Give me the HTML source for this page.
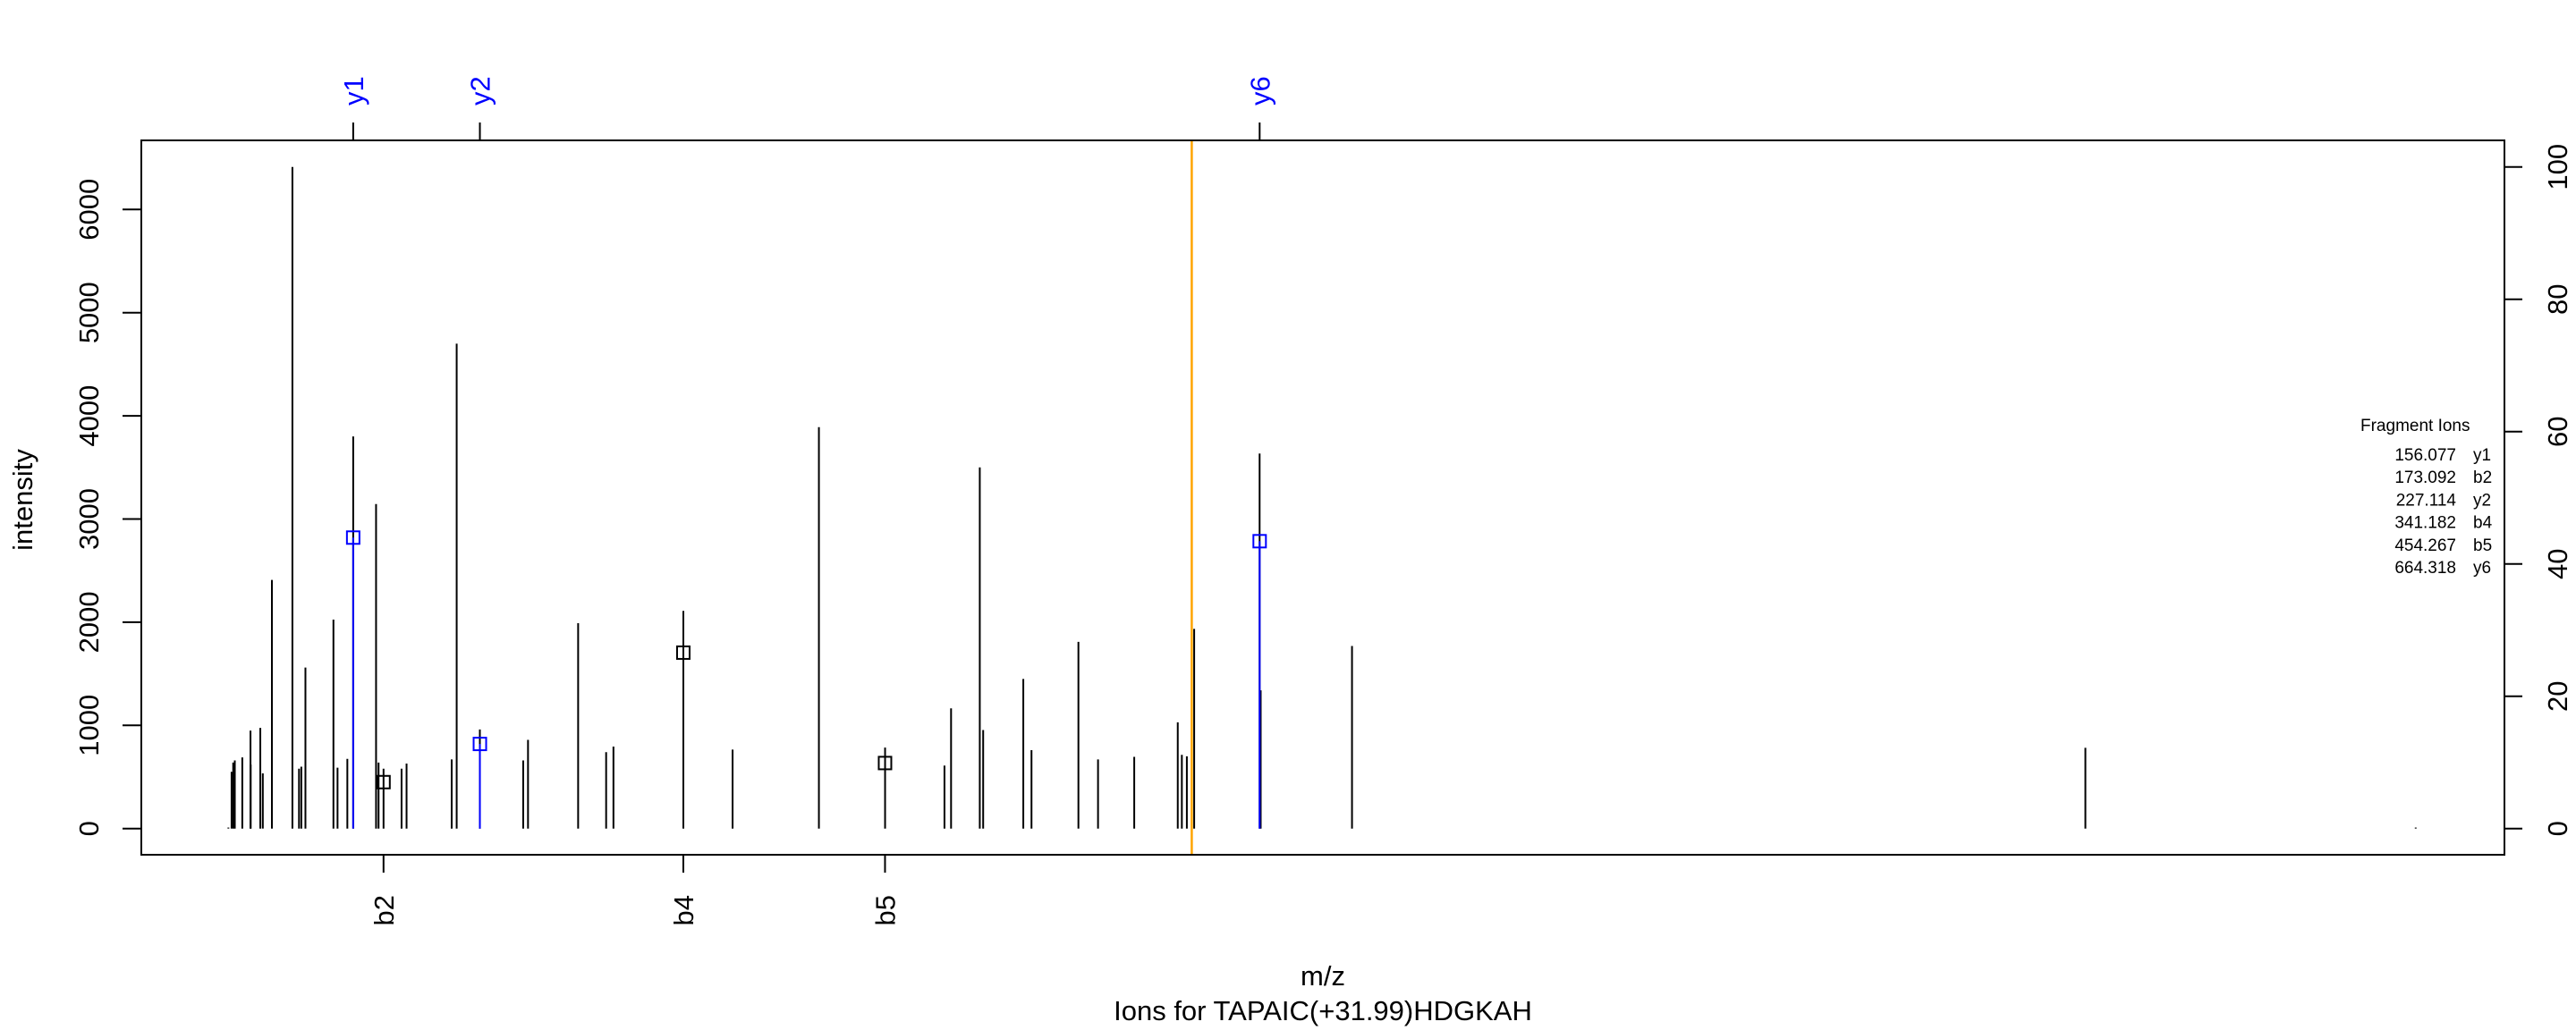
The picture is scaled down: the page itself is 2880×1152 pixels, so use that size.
<!DOCTYPE html>
<html><head><meta charset="utf-8"><style>
html,body{margin:0;padding:0;background:#fff;}
svg{display:block;font-family:"Liberation Sans",Arial,sans-serif;}
</style></head><body>
<svg id="chart" width="2880" height="1152" viewBox="0 0 2880 1152" xmlns="http://www.w3.org/2000/svg">
<rect x="158" y="157" width="2642" height="799" fill="none" stroke="#000" stroke-width="2"/>
<text x="0" y="0" transform="translate(36,559) rotate(-90)" text-anchor="middle" font-size="31">intensity</text>
<text x="1479" y="1102" text-anchor="middle" font-size="31">m/z</text>
<text x="1479" y="1141" text-anchor="middle" font-size="31">Ions for TAPAIC(+31.99)HDGKAH</text>
<g id="legend" font-size="19">
<text x="2639" y="482">Fragment Ions</text>
</g>
<g id="axes"></g>
<g id="peaks"></g>
<g id="marks"></g>
</svg>
<script>
const peakMz = [86.1,87.9,88.8,89.7,93.9,98.5,98.6,104.0,105.4,110.5,122.0,125.7,127.0,129.3,145.0,147.3,152.8,156.08,168.9,170.3,173.1,183.2,186.0,211.3,214.1,227.1,251.4,254.1,282.2,297.9,302.0,341.2,368.8,417.2,454.3,487.6,491.3,507.4,509.3,531.8,536.4,562.7,573.7,594.0,618.4,620.7,623.5,627.6,664.3,664.9,716.1,1127.3,1312.5];
const peakInt = [10,550,640,660,690,950,620,975,535,2410,6412,580,600,1560,2025,590,675,3800,3145,640,580,580,630,670,4700,960,660,860,1990,740,795,2110,765,3890,785,610,1165,3500,955,1450,760,1810,670,695,1030,715,700,1935,3635,1340,1770,783,10];
const ionMz = [156.077,173.092,227.114,341.182,454.267,664.318];
const ionLabels = ["y1","b2","y2","b4","b5","y6"];
const ionInt = [2820,450,820,1705,635,2785];
const ionIsY = [true,false,true,false,false,true];
const leftTicks = [0,1000,2000,3000,4000,5000,6000];
const rightTicks = [0,20,40,60,80,100];
const precursorMz = 626.25;
const maxInt = 6412;

const NS = "http://www.w3.org/2000/svg";
function xs(mz){ return 428.8 + (mz - 173.092) * 1.994; }
function ys(v){ return 926.7 - v * 0.1154; }
function yp(p){ return ys(p / 100 * maxInt); }
function mk(tag, attrs, parent){
  const e = document.createElementNS(NS, tag);
  for (const k in attrs) e.setAttribute(k, attrs[k]);
  parent.appendChild(e); return e;
}
const axes = document.getElementById('axes');
const peaksG = document.getElementById('peaks');
const marksG = document.getElementById('marks');
const legend = document.getElementById('legend');

leftTicks.forEach(t => {
  const y = ys(t);
  const l = mk('line', {x1:137, x2:158, y1:y, y2:y, stroke:'#000', 'stroke-width':2}, axes);
  
  
  const tx = mk('text', {transform:`translate(110,${y}) rotate(-90)`, 'text-anchor':'middle', 'font-size':31}, axes);
  tx.textContent = t;
  
  
});
rightTicks.forEach(t => {
  const y = yp(t);
  const l = mk('line', {x1:2800, x2:2820, y1:y, y2:y, stroke:'#000', 'stroke-width':2}, axes);
  
  
  const tx = mk('text', {transform:`translate(2870,${y}) rotate(-90)`, 'text-anchor':'middle', 'font-size':31}, axes);
  tx.textContent = t;
  
  
});

const pl = mk('line', {x1:xs(precursorMz), x2:xs(precursorMz), y1:158, y2:955, stroke:'#FFA500', 'stroke-width':2.5}, axes);



peakMz.forEach((mz, i) => {
  const x = xs(mz);
  const l = mk('line', {x1:x, x2:x, y1:ys(0), y2:ys(peakInt[i]), stroke:'#000', 'stroke-width':2}, peaksG);
  
  
});

ionMz.forEach((mz, i) => {
  const x = xs(mz), col = ionIsY[i] ? '#0000FF' : '#000';
  if (ionIsY[i]) {
    const l = mk('line', {x1:x, x2:x, y1:ys(0), y2:ys(ionInt[i]), stroke:col, 'stroke-width':2}, marksG);
    
    
    const tk = mk('line', {x1:x, x2:x, y1:137, y2:157, stroke:'#000', 'stroke-width':2}, axes);
    
    
    const tx = mk('text', {transform:`translate(${x+11},118) rotate(-90)`, 'text-anchor':'start', 'font-size':31, fill:'#0000FF'}, axes);
    tx.textContent = ionLabels[i];
    
    
  } else {
    const tk = mk('line', {x1:x, x2:x, y1:956, y2:976, stroke:'#000', 'stroke-width':2}, axes);
    
    
    const tx = mk('text', {transform:`translate(${x+11},1001) rotate(-90)`, 'text-anchor':'end', 'font-size':31}, axes);
    tx.textContent = ionLabels[i];
    
    
  }
  const sq = mk('rect', {x:x-7, y:ys(ionInt[i])-7, width:14, height:14, fill:'none', stroke:col, 'stroke-width':2}, marksG);
  
  

  const yy = 515 + i * 25.2;
  const n = mk('text', {x:2746, y:yy, 'text-anchor':'end'}, legend);
  n.textContent = mz.toFixed(3);
  
  
  const lb = mk('text', {x:2765, y:yy}, legend);
  lb.textContent = ionLabels[i];
  
  
});
</script>
</body></html>
